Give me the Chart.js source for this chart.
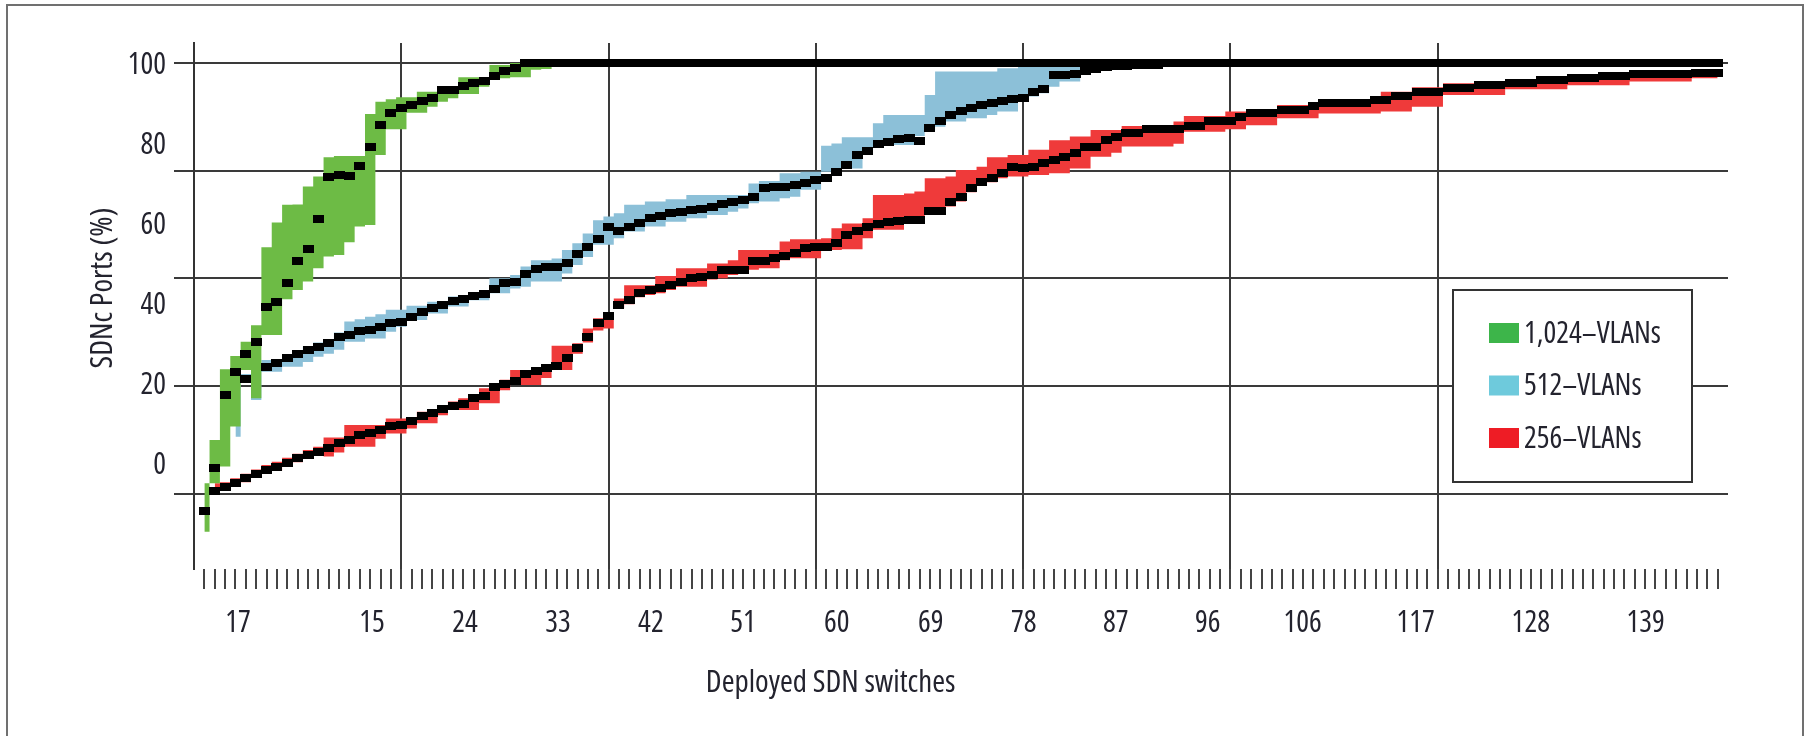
<!DOCTYPE html>
<html>
<head>
<meta charset="utf-8">
<script src="https://cdn.jsdelivr.net/npm/chart.js@4"></script>
<style>
  html, body { margin: 0; padding: 0; background: #fff; overflow: hidden; }
  canvas { display: block; }
</style>
</head>
<body>
<canvas id="portsChart" width="1808" height="736"></canvas>
<script>
// x categories: deployed switch index, one per minor tick
const switches = Array.from({ length: 147 }, (_, i) => i + 1);

// printed x tick labels and where they sit on the switch axis
const tickLabels = ['17', '15', '24', '33', '42', '51', '60', '69', '78', '87', '96', '106', '117', '128', '139'];
const tickLabelAt = [4.24, 17.17, 26.14, 35.11, 44.08, 52.96, 62.02, 71.09, 80.06, 88.94, 97.81, 106.97, 117.87, 128.97, 140.06];

// y tick labels and the (offset) horizontal grid rows
const yTicks = [0, 20, 40, 60, 80, 100];
const gridRows = [100, 73.33, 46.67, 20, -6.67];
const gridColumns = [20, 40, 60, 80, 100, 120];

// 1,024-VLANs
const greenMid = [
  -10.9, -0.3, 17.8, 23.6, 27.9, 31.0, 39.7, 40.8, 45.5, 51.0,
  53.9, 61.4, 71.9, 72.3, 72.1, 74.5, 79.3, 84.7, 87.5, 88.8,
  89.6, 90.6, 91.3, 93.2, 93.3, 94.4, 95.0, 95.6, 96.8, 97.9,
  98.7, 100, 100, 100, 100, 100, 100, 100, 100, 100,
  100, 100, 100, 100, 100, 100, 100, 100, 100, 100,
  100, 100, 100, 100, 100, 100, 100, 100, 100, 100,
  100, 100, 100, 100, 100, 100, 100, 100, 100, 100,
  100, 100, 100, 100, 100, 100, 100, 100, 100, 100,
  100, 100, 100, 100, 100, 100, 100, 100, 100, 100,
  100, 100, 100, 100, 100, 100, 100, 100, 100, 100,
  100, 100, 100, 100, 100, 100, 100, 100, 100, 100,
  100, 100, 100, 100, 100, 100, 100, 100, 100, 100,
  100, 100, 100, 100, 100, 100, 100, 100, 100, 100,
  100, 100, 100, 100, 100, 100, 100, 100, 100, 100,
  100, 100, 100, 100, 100, 100, 100
];
const greenHigh = [
  -4.0, 6.7, 24.2, 27.5, 31.0, 35.1, 54.4, 60.5, 64.9, 65.0,
  69.4, 71.9, 76.7, 77.0, 77.0, 77.0, 87.4, 90.4, 91.0, 91.5,
  91.5, 92.9, 92.9, 94.1, 94.1, 96.5, 96.5, 96.5, 99.5, 99.5,
  100, 100, 100, 100, 100
];
const greenLow = [
  -16.0, -4.0, 0.1, 10.0, 24.0, 17.0, 32.7, 32.7, 41.5, 43.8,
  45.9, 49.2, 52.1, 52.5, 55.6, 59.5, 59.9, 77.2, 83.6, 83.6,
  87.7, 87.7, 89.2, 90.4, 91.3, 92.3, 92.3, 94.1, 95.8, 96.2,
  96.5, 96.5, 98.3, 98.5, 100
];

// 512-VLANs
const blueMid = [
  null, null, null, null, 21.9, null, 24.8, 25.8, 26.9, 27.9,
  29.0, 29.8, 30.8, 32.3, 32.7, 33.7, 33.9, 34.7, 35.6, 36.0,
  37.2, 38.4, 39.3, 40.1, 41.1, 41.7, 42.4, 42.8, 44.0, 45.5,
  45.7, 47.7, 48.9, 49.4, 49.6, 50.4, 52.7, 54.5, 56.4, 59.5,
  58.3, 59.5, 60.5, 61.6, 62.2, 62.8, 63.2, 63.6, 63.8, 64.4,
  65.1, 65.7, 66.1, 66.9, 69.0, 69.2, 69.4, 69.8, 70.2, 71.0,
  71.5, 72.9, 74.8, 77.2, 78.1, 80.0, 80.5, 81.1, 81.4, 80.8,
  83.8, 85.7, 87.1, 88.2, 88.8, 89.6, 90.2, 90.7, 91.0, 91.3,
  92.9, 93.6, 97.0, 97.0, 97.4, 97.9, 98.5, 99.1, 99.2, 99.3,
  99.4, 99.5, 99.6, 100, 100, 100, 100, 100, 100, 100,
  100, 100, 100, 100, 100, 100, 100, 100, 100, 100,
  100, 100, 100, 100, 100, 100, 100, 100, 100, 100,
  100, 100, 100, 100, 100, 100, 100, 100, 100, 100,
  100, 100, 100, 100, 100, 100, 100, 100, 100, 100,
  100, 100, 100, 100, 100, 100, 100
];
const blueHigh = [
  null, null, null, 24.0, 23.0, 25.5, 26.5, 26.5, 27.7, 27.7,
  29.8, 30.8, 31.6, 33.3, 36.0, 36.6, 37.2, 37.8, 38.9, 38.9,
  39.9, 39.9, 40.9, 40.9, 42.2, 42.2, 43.2, 43.2, 46.7, 46.7,
  47.5, 49.6, 51.2, 51.2, 51.6, 53.7, 55.4, 57.8, 61.1, 62.0,
  62.8, 64.9, 64.9, 65.7, 65.7, 66.3, 66.3, 67.3, 67.3, 67.3,
  67.3, 67.3, 67.3, 70.2, 70.8, 70.8, 72.7, 72.7, 73.1, 73.1,
  79.5, 80.1, 81.6, 81.6, 81.6, 85.1, 87.1, 87.1, 87.1, 87.1,
  92.1, 97.9, 97.9, 97.9, 97.9, 97.9, 97.9, 98.7, 98.7, 99.1,
  99.5, 99.5, 99.5, 99.8, 100, 100, 100, 100, 100, 100,
  100, 100, 100, 100, 100
];
const blueLow = [
  null, null, null, 7.5, 21.0, 16.6, 23.6, 23.6, 24.8, 24.8,
  26.0, 27.3, 28.0, 29.0, 31.0, 31.0, 31.8, 31.8, 33.5, 34.7,
  36.4, 36.4, 38.0, 38.0, 39.7, 39.7, 41.3, 41.3, 43.0, 43.0,
  44.2, 44.6, 45.9, 45.9, 45.9, 47.9, 50.0, 52.0, 55.0, 55.0,
  56.6, 58.3, 58.3, 59.5, 59.5, 60.7, 60.7, 61.6, 61.6, 62.4,
  62.4, 63.2, 64.0, 65.3, 65.7, 65.7, 66.5, 66.9, 68.6, 68.6,
  73.1, 73.9, 73.9, 73.9, 77.2, 79.3, 79.7, 79.7, 79.7, 81.9,
  83.4, 84.2, 85.5, 85.5, 86.3, 86.3, 87.1, 88.0, 88.0, 90.8,
  91.7, 92.5, 94.1, 95.4, 95.4, 98.0, 98.0, 98.4, 98.6, 98.8,
  99.0, 99.2, 99.4, 100, 100
];

// 256-VLANs
const redMid = [
  null, -5.9, -4.9, -3.9, -2.8, -1.7, -0.7, 0.1, 1.1, 2.2,
  3.0, 3.8, 4.7, 5.9, 6.7, 7.9, 8.4, 9.2, 10.1, 10.5,
  11.4, 12.6, 13.4, 14.3, 15.1, 15.5, 17.2, 17.6, 19.9, 20.5,
  21.3, 22.9, 23.8, 24.6, 25.0, 27.1, 29.5, 32.2, 35.7, 37.3,
  40.1, 41.3, 43.0, 43.8, 44.2, 45.0, 45.9, 46.7, 47.1, 47.5,
  48.8, 48.8, 48.8, 51.1, 51.1, 51.7, 52.2, 52.9, 54.1, 54.4,
  54.5, 55.5, 57.4, 58.3, 59.5, 60.1, 60.7, 60.9, 61.1, 61.1,
  63.4, 63.4, 65.7, 66.9, 69.0, 70.6, 71.5, 72.7, 74.2, 73.9,
  74.3, 75.2, 76.0, 76.7, 77.8, 79.3, 79.3, 80.9, 81.8, 82.6,
  82.6, 83.6, 83.6, 83.6, 83.6, 84.4, 84.4, 85.6, 85.6, 85.6,
  86.7, 87.5, 87.5, 87.5, 88.4, 88.4, 88.4, 89.3, 90.0, 90.0,
  90.0, 90.0, 90.0, 90.8, 90.8, 91.9, 91.9, 92.9, 92.9, 92.9,
  93.7, 93.7, 93.7, 94.6, 94.6, 94.6, 95.1, 95.1, 95.1, 95.8,
  95.8, 95.8, 96.2, 96.2, 96.2, 96.8, 96.8, 96.8, 97.3, 97.3,
  97.3, 97.3, 97.3, 97.3, 97.6, 97.6, 97.6
];
const redHigh = [
  null, -4.0, -3.8, -2.8, -1.7, -0.6, 0.5, 1.3, 2.3, 3.3,
  4.2, 5.0, 7.3, 7.3, 10.4, 10.4, 10.4, 10.4, 12.0, 12.0,
  12.0, 13.7, 13.7, 15.3, 16.2, 17.0, 17.0, 19.5, 19.5, 21.6,
  24.0, 24.0, 24.0, 24.0, 30.0, 30.0, 30.6, 34.3, 36.8, 38.0,
  41.7, 45.0, 45.0, 45.0, 47.3, 47.3, 49.2, 49.2, 49.2, 50.4,
  50.4, 51.2, 53.7, 53.7, 53.7, 53.7, 55.8, 56.4, 56.4, 56.4,
  56.6, 59.1, 60.3, 60.3, 61.6, 67.3, 67.3, 67.3, 67.7, 68.2,
  71.5, 71.5, 71.9, 73.5, 73.5, 74.3, 76.7, 76.7, 77.2, 77.2,
  78.5, 78.5, 80.9, 80.9, 81.8, 81.8, 83.4, 83.4, 83.4, 84.4,
  84.4, 84.4, 84.4, 84.4, 85.5, 86.9, 86.9, 86.9, 86.9, 88.0,
  88.0, 88.6, 88.6, 88.6, 89.6, 89.6, 89.6, 89.6, 91.0, 91.0,
  91.0, 91.0, 91.0, 91.0, 92.9, 92.9, 92.9, 94.0, 94.0, 94.0,
  95.0, 95.0, 95.0, 95.0, 95.0, 95.0, 96.0, 96.0, 96.0, 96.0,
  96.0, 96.0, 97.3, 97.3, 97.3, 97.3, 97.3, 97.3, 97.8, 97.8,
  97.8, 97.8, 97.8, 97.8, 98.3, 98.3, 98.3
];
const redLow = [
  null, -6.8, -5.9, -4.9, -3.8, -2.7, -1.7, -0.9, 0.1, 1.2,
  2.0, 2.8, 2.6, 3.6, 5.0, 5.0, 5.0, 7.0, 8.3, 8.3,
  9.5, 10.8, 10.8, 12.8, 14.1, 14.1, 14.1, 15.8, 15.8, 19.0,
  20.3, 20.3, 20.3, 22.0, 24.0, 24.0, 28.0, 30.8, 33.8, 34.3,
  39.3, 40.3, 42.0, 42.6, 43.0, 43.8, 44.6, 44.6, 44.6, 46.4,
  46.7, 47.5, 47.8, 48.8, 49.2, 49.2, 51.2, 51.7, 51.7, 51.7,
  53.7, 53.7, 53.9, 53.9, 56.6, 58.7, 58.7, 58.7, 60.3, 61.0,
  62.4, 62.4, 64.5, 65.7, 68.0, 69.6, 70.5, 71.5, 71.9, 71.9,
  72.3, 72.3, 72.7, 72.7, 73.9, 73.9, 76.8, 76.8, 77.8, 79.3,
  79.3, 79.3, 79.3, 79.3, 80.0, 83.0, 83.0, 83.0, 83.0, 83.6,
  83.6, 84.6, 84.6, 84.6, 86.3, 86.3, 86.3, 86.3, 87.5, 87.5,
  87.5, 87.5, 87.5, 87.5, 88.0, 88.0, 88.0, 89.2, 89.2, 89.2,
  92.1, 92.1, 92.1, 92.1, 92.1, 92.1, 93.5, 93.5, 93.5, 93.5,
  93.5, 93.5, 94.5, 94.5, 94.5, 94.5, 94.5, 94.5, 95.4, 95.4,
  95.4, 95.4, 95.4, 95.4, 96.2, 96.2, 96.2
];

const xTitle = 'Deployed SDN switches';
const yTitle = 'SDNc Ports (%)';

// the original uses a condensed face: try a width-variable font, else DejaVu Condensed
function pickFont() {
  const c = document.createElement('canvas').getContext('2d');
  const probe = 'Deployed SDN switches 0123456789';
  for (const fam of ["'Noto Sans'", "'Open Sans'"]) {
    c.font = '40px ' + fam;
    const wide = c.measureText(probe).width;
    c.font = 'condensed 40px ' + fam;
    const narrow = c.measureText(probe).width;
    if (narrow < wide * 0.85) return { family: fam + ', sans-serif', stretch: 'condensed', ok: true };
  }
  return { family: "'DejaVu Sans Condensed', 'DejaVu Sans', sans-serif", stretch: null, ok: false };
}
const FONT = pickFont();
const TICK_SIZE = FONT.ok ? 30 : 26;
const TITLE_SIZE = FONT.ok ? 31 : 26;
const TEXT_COLOR = '#23232e';
const LINE_COLOR = '#3a3a3a';
const fontStr = size => (FONT.stretch ? FONT.stretch + ' ' : '') + size + 'px ' + FONT.family;

Chart.defaults.font.family = FONT.family;
Chart.defaults.font.weight = FONT.stretch;
Chart.defaults.color = TEXT_COLOR;

const points = vals => vals.map((v, i) => ({ x: switches[i], y: v }));

// black step marker drawn at each switch count
const marker = document.createElement('canvas');
marker.width = 11;
marker.height = 8;
const mctx = marker.getContext('2d');
mctx.fillStyle = '#000';
mctx.fillRect(0, 0, 11, 8);

function markerSet(vals) {
  return {
    data: points(vals),
    showLine: false,
    pointStyle: marker,
    pointRadius: 4,
    order: 0
  };
}

function bandEdge(label, vals, color, legendColor, order, isTop) {
  return {
    label: label,
    data: points(vals),
    stepped: 'middle',
    borderWidth: 0,
    borderColor: 'rgba(0,0,0,0)',
    backgroundColor: color,
    pointRadius: 0,
    fill: isTop ? '+1' : false,
    legendColor: isTop ? legendColor : null,
    order: order
  };
}

// frame round the whole figure
const framePlugin = {
  id: 'frame',
  beforeDraw(chart) {
    const ctx = chart.ctx;
    ctx.save();
    ctx.fillStyle = '#fff';
    ctx.fillRect(0, 0, chart.width, chart.height);
    ctx.strokeStyle = '#707070';
    ctx.lineWidth = 2;
    ctx.strokeRect(7, 5, 1796, 800);
    ctx.restore();
  }
};

// axis titles: x sits left of centre, y is centred a little above the plot middle
const titlesPlugin = {
  id: 'axisTitles',
  afterDraw(chart) {
    const a = chart.chartArea;
    const ctx = chart.ctx;
    ctx.save();
    ctx.font = fontStr(TITLE_SIZE);
    ctx.fillStyle = TEXT_COLOR;
    ctx.textAlign = 'center';
    ctx.textBaseline = 'middle';
    ctx.fillText(xTitle, a.left + a.width * 0.415, 683);
    ctx.translate(a.left - 91, 288);
    ctx.rotate(-Math.PI / 2);
    ctx.fillText(yTitle, 0, 0);
    ctx.restore();
  }
};

// boxed legend inside the plot
const legendBoxPlugin = {
  id: 'legendBox',
  afterDraw(chart, args, opts) {
    const ctx = chart.ctx;
    const items = chart.data.datasets.filter(d => d.legendColor);
    ctx.save();
    ctx.fillStyle = '#fff';
    ctx.fillRect(opts.left, opts.top, opts.width, opts.height);
    ctx.strokeStyle = '#333';
    ctx.lineWidth = 2;
    ctx.strokeRect(opts.left, opts.top, opts.width, opts.height);
    ctx.font = fontStr(TICK_SIZE);
    ctx.textBaseline = 'middle';
    ctx.textAlign = 'left';
    items.forEach((d, i) => {
      const y = opts.firstRow + i * opts.rowGap;
      ctx.fillStyle = d.legendColor;
      ctx.fillRect(opts.left + 36, y - 10, 30, 20);
      ctx.fillStyle = TEXT_COLOR;
      ctx.fillText(d.label, opts.left + 71, y + 1);
    });
    ctx.restore();
  }
};

new Chart(document.getElementById('portsChart'), {
  type: 'line',
  data: {
    datasets: [
      markerSet(greenMid),
      markerSet(blueMid),
      markerSet(redMid),
      bandEdge('1,024\u2013VLANs', greenHigh, '#6dbb45', '#3db54a', 1, true),
      bandEdge('', greenLow, '#6dbb45', null, 1, false),
      bandEdge('512\u2013VLANs', blueHigh, '#8cc0d8', '#6ecadc', 2, true),
      bandEdge('', blueLow, '#8cc0d8', null, 2, false),
      bandEdge('256\u2013VLANs', redHigh, '#ef3a3a', '#ee1c25', 3, true),
      bandEdge('', redLow, '#ef3a3a', null, 3, false)
    ]
  },
  options: {
    responsive: false,
    animation: false,
    events: [],
    layout: { padding: { left: 70, top: 43, right: 80, bottom: 80 } },
    plugins: {
      legend: { display: false },
      tooltip: { enabled: false },
      legendBox: { left: 1453, top: 290, width: 239, height: 192, firstRow: 333, rowGap: 52.5 }
    },
    scales: {
      x: {
        type: 'linear',
        position: 'bottom',
        weight: 0,
        min: 0,
        max: 148,
        z: 1,
        afterBuildTicks: s => { s.ticks = switches.map(v => ({ value: v })); },
        grid: {
          color: c => (c.tick && gridColumns.includes(c.tick.value)) ? LINE_COLOR : 'rgba(0,0,0,0)',
          tickColor: '#444',
          lineWidth: 2,
          tickLength: 20,
          drawTicks: true
        },
        border: { display: false },
        ticks: { display: false, autoSkip: false }
      },
      xLabels: {
        type: 'linear',
        position: 'bottom',
        weight: 1,
        min: 0,
        max: 148,
        afterBuildTicks: s => { s.ticks = tickLabelAt.map(v => ({ value: v })); },
        afterFit: s => { s.height = 67; },
        grid: { display: false, drawTicks: false },
        border: { display: false },
        ticks: {
          autoSkip: false,
          maxRotation: 0,
          padding: 16,
          font: { size: TICK_SIZE },
          color: TEXT_COLOR,
          callback: (v, i) => tickLabels[i]
        }
      },
      y: {
        type: 'linear',
        position: 'left',
        weight: 0,
        min: -25.25,
        max: 104.95,
        z: 1,
        afterBuildTicks: s => { s.ticks = gridRows.map(v => ({ value: v })); },
        grid: { color: LINE_COLOR, lineWidth: 2, tickLength: 20, drawTicks: true },
        border: { display: true, color: '#333', width: 2 },
        ticks: { display: false }
      },
      yLabels: {
        type: 'linear',
        position: 'left',
        weight: 1,
        min: -25.8,
        max: 105.7,
        afterBuildTicks: s => { s.ticks = yTicks.map(v => ({ value: v })); },
        afterFit: s => { s.width = 104; },
        grid: { display: false, drawTicks: false },
        border: { display: false },
        ticks: { padding: 8, font: { size: TICK_SIZE }, color: TEXT_COLOR, callback: v => String(v) }
      }
    }
  },
  plugins: [framePlugin, titlesPlugin, legendBoxPlugin]
});
</script>
</body>
</html>
